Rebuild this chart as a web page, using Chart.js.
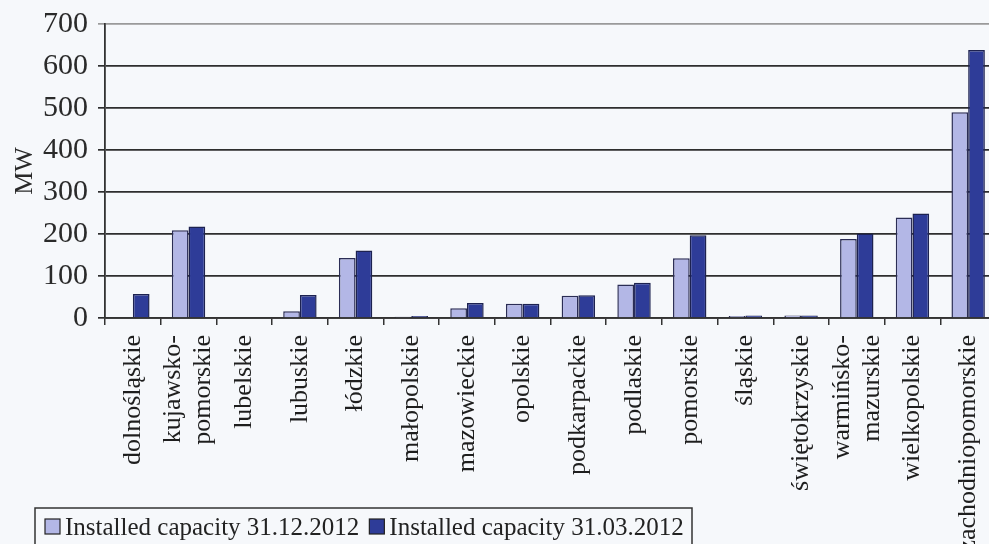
<!DOCTYPE html>
<html>
<head>
<meta charset="utf-8">
<script src="https://cdn.jsdelivr.net/npm/chart.js@4"></script>
<style>
  html, body { margin: 0; padding: 0; background: #f6f8fb; overflow: hidden; }
  #wrap { width: 989px; height: 544px; overflow: hidden; }
</style>
</head>
<body>
<div id="wrap"><canvas id="diagramm" width="996" height="544"></canvas></div>
<script>
const regions = [
  "dolnośląskie", ["kujawsko-", "pomorskie"], "lubelskie", "lubuskie", "łódzkie",
  "małopolskie", "mazowieckie", "opolskie", "podkarpackie", "podlaskie", "pomorskie",
  "śląskie", "świętokrzyskie", ["warmińsko-", "mazurskie"], "wielkopolskie", "zachodniopomorskie"
];
const capacityDec2012 = [0, 209, 0, 16, 143, 3, 23, 34, 53, 80, 142, 5, 6, 188, 239, 490];
const capacityMar2012 = [57, 218, 0, 55, 161, 5, 36, 34, 54, 84, 197, 6, 6, 201, 249, 638];
const yTicks = [0, 100, 200, 300, 400, 500, 600, 700];
const seriesNames = ["Installed capacity 31.12.2012", "Installed capacity 31.03.2012"];

const serif = "'Liberation Serif', 'Times New Roman', serif";

// vertical category names, two-line names centred on their tick
const verticalLabels = {
  id: "verticalLabels",
  afterDraw(chart) {
    const c = chart.ctx;
    const xs = chart.scales.x;
    c.save();
    c.font = "26px " + serif;
    c.fillStyle = "#1e1e1e";
    c.textAlign = "right";
    c.textBaseline = "middle";
    chart.data.labels.forEach((lab, i) => {
      const lines = Array.isArray(lab) ? lab : [lab];
      const cx = xs.getPixelForTick(i);
      lines.forEach((line, j) => {
        const x = cx + (j - (lines.length - 1) / 2) * 30;
        c.save();
        c.translate(x, xs.top + 17);
        c.rotate(-Math.PI / 2);
        c.fillText(line, 0, 0);
        c.restore();
      });
    });
    c.restore();
  },
};

// legend box at the bottom left, like the scanned original
const boxLegend = {
  id: "boxLegend",
  afterDraw(chart) {
    const c = chart.ctx;
    c.save();
    c.strokeStyle = "#333";
    c.lineWidth = 1.5;
    c.strokeRect(35, 508, 657, 50);
    c.font = "25px " + serif;
    c.textBaseline = "middle";
    let x = 45;
    chart.data.datasets.forEach((ds) => {
      c.fillStyle = ds.backgroundColor;
      c.fillRect(x, 519, 15, 15);
      c.strokeStyle = "#222";
      c.lineWidth = 1.2;
      c.strokeRect(x, 519, 15, 15);
      c.fillStyle = "#222";
      c.fillText(ds.label, x + 20, 528);
      x += 20 + c.measureText(ds.label).width + 10;
    });
    c.restore();
  },
};

new Chart(document.getElementById("diagramm").getContext("2d"), {
  type: "bar",
  data: {
    labels: regions,
    datasets: [
      {
        label: seriesNames[0],
        data: capacityDec2012,
        backgroundColor: "#b3b7e6",
        borderColor: "#2b2d55",
        borderWidth: 1.5,
      },
      {
        label: seriesNames[1],
        data: capacityMar2012,
        backgroundColor: "#2e3c98",
        borderColor: "#1d2250",
        borderWidth: 1.5,
      },
    ],
  },
  options: {
    responsive: false,
    animation: false,
    layout: { padding: { top: 24, right: 0, left: 0, bottom: 0 } },
    plugins: {
      legend: { display: false },
      tooltip: { enabled: false },
    },
    datasets: {
      bar: { categoryPercentage: 0.6, barPercentage: 1.0 },
    },
    scales: {
      x: {
        afterFit(scale) {
          scale.height = 226;
          scale.paddingLeft = 0;
          scale.paddingRight = 0;
        },
        grid: { offset: true, drawOnChartArea: false, drawTicks: true, tickLength: 7, color: "#333", lineWidth: 1.5 },
        border: { color: "#333", width: 1.8 },
        ticks: { display: false },
      },
      y: {
        min: 0,
        max: 700,
        afterFit(scale) {
          scale.width = 105;
          scale.paddingTop = 0;
          scale.paddingBottom = 0;
        },
        afterBuildTicks(scale) { scale.ticks = yTicks.map((v) => ({ value: v })); },
        grid: {
          color: (ctx) => (ctx.tick && ctx.tick.value === 700 ? "#9a9a9a" : "#2e2e2e"),
          lineWidth: 1.7,
          tickLength: 7,
        },
        border: { color: "#333", width: 1.8 },
        ticks: {
          padding: 10,
          color: "#2a2a2a",
          font: { family: serif, size: 30 },
        },
        title: {
          display: true,
          text: "MW",
          color: "#2a2a2a",
          font: { family: serif, size: 26 },
          padding: { top: 10, bottom: 0 },
        },
      },
    },
  },
  plugins: [verticalLabels, boxLegend],
});
</script>
</body>
</html>
